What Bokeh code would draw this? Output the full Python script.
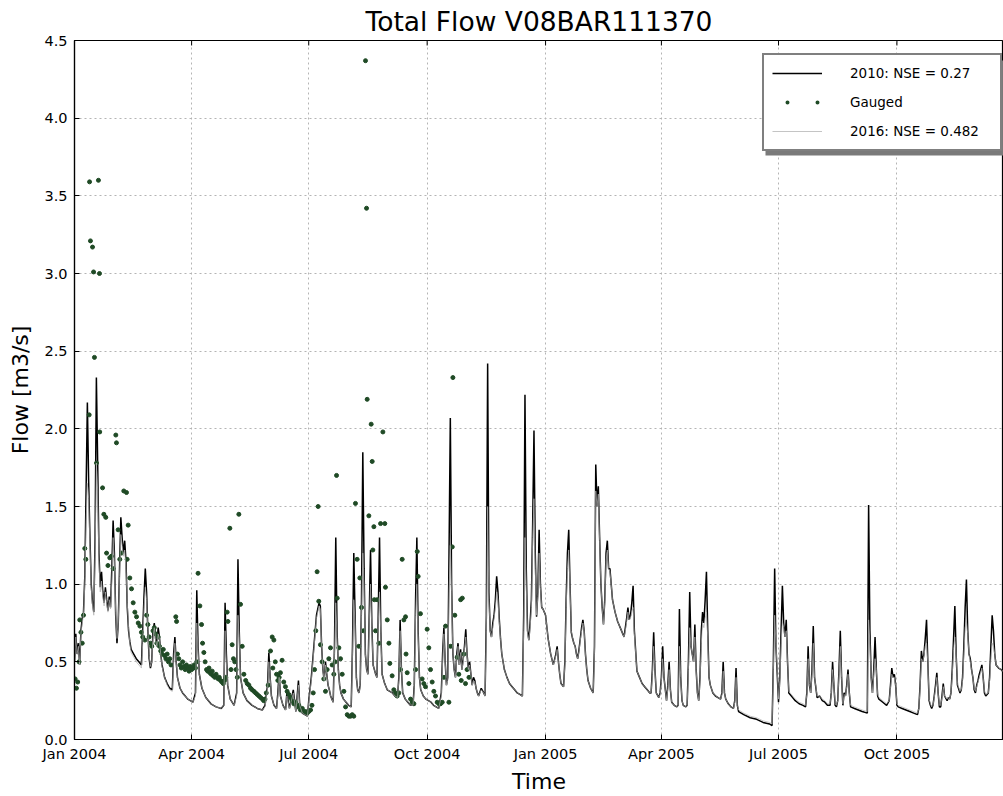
from datetime import datetime, timedelta
from bokeh.plotting import figure
from bokeh.models import (Range1d, FixedTicker, DatetimeTickFormatter, PrintfTickFormatter,
                          Legend, LegendItem, ColumnDataSource, BoxAnnotation)
from bokeh.embed import file_html
from bokeh.resources import INLINE

START = datetime(2004, 1, 1)

# simulated series: day offsets from 2004-01-01 and flows (m3/s)
sim_day = [
    0, 1, 2, 3, 4, 5, 6, 7, 8, 9,
    10, 11, 12, 13, 14, 15, 16, 17, 18, 19,
    20, 21, 22, 23, 24, 25, 26, 27, 28, 29,
    30, 31, 32, 33, 34, 35, 36, 37, 38, 39,
    40, 41, 42, 43, 44, 46, 48, 50, 52, 53,
    54, 55, 56, 57, 58, 59, 60, 61, 62, 63,
    64, 65, 66, 67, 68, 70, 72, 74, 76, 77,
    78, 79, 80, 82, 84, 86, 88, 90, 92, 94,
    95, 96, 97, 99, 102, 106, 110, 114, 116, 117,
    118, 119, 121, 124, 126, 127, 128, 129, 131, 134,
    138, 142, 146, 148, 150, 151, 152, 153, 155, 157,
    158, 159, 160, 162, 164, 165, 167, 170, 172, 174,
    175, 177, 179, 181, 182, 184, 186, 188, 190, 191,
    192, 193, 194, 195, 196, 197, 198, 199, 200, 201,
    202, 203, 204, 205, 206, 207, 209, 211, 213, 215,
    216, 217, 218, 219, 220, 221, 222, 223, 224, 225,
    226, 227, 228, 229, 230, 231, 232, 233, 234, 235,
    236, 237, 238, 239, 241, 243, 245, 247, 249, 251,
    252, 253, 254, 255, 257, 259, 261, 263, 264, 265,
    266, 267, 268, 269, 271, 273, 275, 277, 279, 281,
    283, 285, 286, 287, 288, 289, 290, 291, 292, 293,
    294, 295, 296, 297, 298, 299, 300, 301, 302, 303,
    304, 305, 306, 307, 308, 309, 310, 311, 312, 313,
    314, 316, 318, 319, 320, 321, 322, 323, 324, 325,
    326, 327, 328, 329, 330, 331, 332, 334, 336, 338,
    340, 342, 344, 346, 348, 349, 350, 351, 352, 353,
    354, 355, 356, 357, 358, 359, 360, 361, 362, 363,
    364, 366, 368, 370, 372, 374, 375, 376, 377, 378,
    380, 381, 382, 383, 384, 385, 386, 387, 388, 389,
    390, 391, 392, 393, 394, 395, 396, 397, 398, 399,
    401, 403, 404, 405, 406, 407, 408, 409, 410, 411,
    412, 413, 414, 415, 416, 417, 418, 420, 422, 424,
    426, 427, 428, 429, 430, 431, 432, 433, 434, 435,
    437, 439, 441, 443, 445, 447, 448, 449, 450, 451,
    452, 454, 455, 456, 457, 458, 460, 461, 462, 463,
    464, 466, 468, 469, 470, 471, 472, 473, 475, 476,
    477, 478, 479, 480, 481, 482, 483, 484, 485, 486,
    487, 488, 489, 490, 491, 492, 493, 494, 496, 498,
    500, 502, 503, 504, 505, 506, 508, 510, 512, 513,
    514, 515, 516, 520, 525, 530, 535, 540, 542, 543,
    544, 545, 547, 548, 549, 550, 551, 552, 553, 554,
    555, 557, 560, 563, 566, 568, 569, 570, 571, 572,
    573, 574, 575, 577, 579, 581, 583, 585, 587, 588,
    589, 590, 591, 592, 593, 594, 595, 596, 597, 598,
    599, 600, 601, 602, 603, 606, 609, 612, 616, 617,
    618, 619, 620, 621, 622, 623, 624, 625, 628, 631,
    633, 634, 635, 636, 637, 638, 639, 640, 643, 646,
    649, 652, 655, 656, 657, 658, 659, 660, 661, 662,
    663, 664, 665, 666, 667, 668, 669, 670, 671, 672,
    673, 674, 675, 676, 678, 679, 680, 681, 682, 683,
    684, 685, 686, 688, 689, 690, 691, 692, 693, 694,
    695, 696, 697, 698, 699, 700, 701, 702, 703, 704,
    705, 706, 707, 708, 710, 711, 712, 713, 714, 715,
    716, 718, 720, 725, 730,
]

flow_2010 = [
    0.50, 0.68, 0.55, 0.62, 0.48, 0.70, 0.78, 0.82, 1.05, 1.60,
    2.17, 1.66, 1.30, 1.00, 0.88, 0.82, 1.30, 2.33, 1.78, 1.20,
    0.98, 1.08, 0.95, 0.88, 0.98, 0.90, 0.83, 0.92, 0.85, 1.10,
    1.41, 1.20, 0.80, 0.62, 0.75, 1.10, 1.43, 1.30, 1.20, 1.28,
    1.15, 0.85, 0.70, 0.63, 0.58, 0.55, 0.52, 0.50, 0.48, 0.70,
    0.92, 1.10, 0.95, 0.70, 0.52, 0.46, 0.50, 0.70, 0.75, 0.65,
    0.60, 0.72, 0.66, 0.55, 0.48, 0.40, 0.36, 0.33, 0.32, 0.55,
    0.66, 0.50, 0.40, 0.33, 0.30, 0.28, 0.26, 0.25, 0.24, 0.30,
    0.96, 0.60, 0.42, 0.33, 0.27, 0.23, 0.21, 0.20, 0.22, 0.88,
    0.55, 0.35, 0.26, 0.22, 0.30, 1.16, 0.70, 0.40, 0.30, 0.25,
    0.22, 0.20, 0.19, 0.22, 0.35, 0.56, 0.40, 0.28, 0.22, 0.20,
    0.30, 0.43, 0.28, 0.22, 0.19, 0.30, 0.20, 0.32, 0.18, 0.38,
    0.22, 0.17, 0.16, 0.15, 0.25, 0.40, 0.60, 0.80, 0.88, 0.86,
    0.60, 0.45, 0.38, 0.50, 0.42, 0.35, 0.32, 0.28, 0.26, 0.24,
    0.60, 1.30, 0.70, 0.45, 0.35, 0.30, 0.26, 0.24, 0.22, 0.21,
    0.60, 1.20, 0.80, 0.40, 0.32, 0.30, 0.35, 0.90, 1.85, 1.10,
    0.55, 0.45, 0.42, 0.80, 1.22, 0.75, 0.48, 0.45, 0.42, 0.40,
    0.80, 1.30, 0.70, 0.42, 0.36, 0.32, 0.31, 0.30, 0.28, 0.27,
    0.40, 0.77, 0.45, 0.30, 0.26, 0.24, 0.22, 0.22, 0.35, 0.90,
    1.30, 0.70, 0.40, 0.32, 0.28, 0.26, 0.25, 0.24, 0.22, 0.21,
    0.20, 0.30, 0.55, 0.72, 0.50, 0.35, 0.40, 1.20, 2.07, 1.00,
    0.55, 0.45, 0.40, 0.55, 0.62, 0.48, 0.58, 0.45, 0.52, 0.60,
    0.71, 0.55, 0.45, 0.50, 0.42, 0.35, 0.40, 0.38, 0.33, 0.30,
    0.28, 0.33, 0.30, 0.28, 0.80, 2.42, 0.95, 0.70, 0.66, 0.75,
    0.80, 0.90, 1.05, 0.95, 0.78, 0.65, 0.55, 0.45, 0.40, 0.36,
    0.34, 0.32, 0.30, 0.29, 0.28, 0.80, 2.22, 1.10, 0.70, 0.64,
    0.75, 0.90, 1.40, 1.99, 1.20, 0.79, 0.95, 1.35, 1.00, 0.85,
    0.84, 0.80, 0.65, 0.55, 0.48, 0.55, 0.60, 0.50, 0.42, 0.36,
    0.34, 0.50, 0.90, 1.20, 1.35, 1.00, 0.69, 0.65, 0.62, 0.60,
    0.55, 0.52, 0.58, 0.65, 0.72, 0.77, 0.70, 0.55, 0.45, 0.38,
    0.33, 0.30, 0.60, 1.77, 1.50, 1.63, 1.30, 1.00, 0.85, 0.74,
    0.90, 1.20, 1.28, 1.10, 1.10, 1.00, 0.90, 0.82, 0.76, 0.72,
    0.68, 0.66, 0.72, 0.78, 0.85, 0.77, 0.80, 0.88, 0.99, 0.70,
    0.44, 0.40, 0.36, 0.34, 0.32, 0.30, 0.30, 0.45, 0.69, 0.45,
    0.30, 0.27, 0.30, 0.40, 0.60, 0.40, 0.25, 0.35, 0.50, 0.32,
    0.24, 0.22, 0.21, 0.22, 0.84, 0.40, 0.25, 0.22, 0.21, 0.22,
    0.50, 0.95, 0.60, 0.55, 0.50, 0.74, 0.45, 0.30, 0.25, 0.40,
    0.70, 0.82, 0.75, 0.90, 1.08, 0.70, 0.40, 0.35, 0.30, 0.28,
    0.27, 0.26, 0.30, 0.50, 0.30, 0.26, 0.23, 0.21, 0.20, 0.25,
    0.46, 0.22, 0.18, 0.16, 0.14, 0.13, 0.11, 0.10, 0.09, 0.50,
    1.10, 0.60, 0.24, 0.40, 0.70, 0.99, 0.75, 0.66, 0.77, 0.50,
    0.30, 0.28, 0.25, 0.23, 0.22, 0.21, 0.30, 0.60, 0.35, 0.30,
    0.45, 0.73, 0.40, 0.27, 0.28, 0.25, 0.24, 0.22, 0.22, 0.30,
    0.50, 0.35, 0.22, 0.21, 0.25, 0.45, 0.70, 0.40, 0.22, 0.30,
    0.28, 0.35, 0.45, 0.30, 0.21, 0.20, 0.19, 0.18, 0.17, 1.51,
    0.70, 0.40, 0.30, 0.45, 0.66, 0.45, 0.28, 0.26, 0.24, 0.22,
    0.25, 0.35, 0.46, 0.40, 0.42, 0.35, 0.22, 0.21, 0.20, 0.19,
    0.18, 0.17, 0.16, 0.20, 0.35, 0.57, 0.50, 0.55, 0.65, 0.77,
    0.50, 0.25, 0.22, 0.20, 0.22, 0.28, 0.35, 0.43, 0.30, 0.21,
    0.21, 0.28, 0.36, 0.28, 0.25, 0.27, 0.26, 0.30, 0.45, 0.65,
    0.86, 0.55, 0.35, 0.30, 0.32, 0.40, 0.60, 0.85, 1.03, 0.70,
    0.55, 0.52, 0.45, 0.40, 0.32, 0.30, 0.35, 0.38, 0.42, 0.45,
    0.48, 0.40, 0.30, 0.28, 0.30, 0.40, 0.60, 0.80, 0.70, 0.55,
    0.48, 0.46, 0.45, 0.40, 0.38,
]

flow_2016 = [
    0.50, 0.66, 0.55, 0.60, 0.48, 0.68, 0.75, 0.80, 1.00, 1.40,
    1.65, 1.55, 1.25, 0.98, 0.86, 0.80, 1.20, 1.78, 1.60, 1.15,
    0.95, 1.02, 0.92, 0.86, 0.95, 0.88, 0.82, 0.90, 0.84, 1.02,
    1.30, 1.15, 0.82, 0.65, 0.75, 1.05, 1.32, 1.25, 1.18, 1.22,
    1.10, 0.88, 0.72, 0.62, 0.56, 0.53, 0.50, 0.48, 0.46, 0.62,
    0.85, 0.98, 0.90, 0.70, 0.54, 0.47, 0.50, 0.66, 0.72, 0.64,
    0.60, 0.68, 0.64, 0.55, 0.47, 0.40, 0.35, 0.32, 0.31, 0.50,
    0.62, 0.50, 0.40, 0.33, 0.30, 0.28, 0.26, 0.25, 0.24, 0.28,
    0.75, 0.58, 0.42, 0.33, 0.27, 0.23, 0.21, 0.20, 0.22, 0.70,
    0.50, 0.35, 0.26, 0.22, 0.28, 0.80, 0.66, 0.40, 0.30, 0.25,
    0.22, 0.20, 0.19, 0.21, 0.32, 0.50, 0.40, 0.28, 0.22, 0.20,
    0.28, 0.40, 0.28, 0.22, 0.19, 0.28, 0.20, 0.30, 0.18, 0.35,
    0.22, 0.17, 0.16, 0.15, 0.24, 0.38, 0.58, 0.78, 0.86, 0.84,
    0.60, 0.45, 0.38, 0.48, 0.42, 0.35, 0.32, 0.28, 0.26, 0.24,
    0.55, 0.88, 0.66, 0.45, 0.35, 0.30, 0.26, 0.24, 0.22, 0.21,
    0.55, 0.90, 0.75, 0.40, 0.32, 0.30, 0.34, 0.80, 1.20, 1.00,
    0.55, 0.45, 0.42, 0.75, 1.00, 0.72, 0.48, 0.45, 0.42, 0.40,
    0.75, 0.95, 0.68, 0.42, 0.36, 0.32, 0.31, 0.30, 0.28, 0.27,
    0.38, 0.70, 0.45, 0.30, 0.26, 0.24, 0.22, 0.22, 0.33, 0.80,
    1.00, 0.68, 0.40, 0.32, 0.28, 0.26, 0.25, 0.24, 0.22, 0.21,
    0.20, 0.28, 0.50, 0.68, 0.50, 0.35, 0.38, 0.95, 1.25, 0.95,
    0.55, 0.45, 0.40, 0.52, 0.60, 0.48, 0.56, 0.45, 0.50, 0.58,
    0.66, 0.55, 0.45, 0.48, 0.42, 0.35, 0.38, 0.37, 0.33, 0.30,
    0.28, 0.32, 0.30, 0.28, 0.70, 1.50, 0.90, 0.70, 0.66, 0.72,
    0.78, 0.85, 0.95, 0.90, 0.76, 0.65, 0.55, 0.45, 0.40, 0.36,
    0.34, 0.32, 0.30, 0.29, 0.28, 0.70, 1.30, 1.00, 0.68, 0.64,
    0.72, 0.85, 1.30, 1.55, 1.10, 0.80, 0.92, 1.20, 0.98, 0.85,
    0.84, 0.80, 0.65, 0.55, 0.48, 0.54, 0.58, 0.50, 0.42, 0.36,
    0.34, 0.48, 0.85, 1.10, 1.22, 0.98, 0.70, 0.65, 0.62, 0.60,
    0.55, 0.52, 0.57, 0.64, 0.70, 0.75, 0.70, 0.55, 0.45, 0.38,
    0.33, 0.30, 0.55, 1.60, 1.50, 1.58, 1.28, 1.00, 0.85, 0.74,
    0.88, 1.15, 1.22, 1.10, 1.08, 1.00, 0.90, 0.82, 0.76, 0.72,
    0.68, 0.66, 0.70, 0.76, 0.82, 0.77, 0.78, 0.82, 0.85, 0.68,
    0.44, 0.40, 0.36, 0.34, 0.32, 0.30, 0.30, 0.42, 0.60, 0.45,
    0.30, 0.27, 0.29, 0.38, 0.52, 0.40, 0.25, 0.33, 0.45, 0.32,
    0.24, 0.22, 0.21, 0.22, 0.60, 0.40, 0.25, 0.22, 0.21, 0.22,
    0.45, 0.72, 0.60, 0.55, 0.50, 0.66, 0.45, 0.30, 0.25, 0.38,
    0.62, 0.75, 0.72, 0.78, 0.82, 0.66, 0.40, 0.35, 0.30, 0.28,
    0.27, 0.26, 0.29, 0.44, 0.30, 0.26, 0.23, 0.21, 0.20, 0.24,
    0.40, 0.22, 0.19, 0.17, 0.15, 0.14, 0.12, 0.11, 0.10, 0.45,
    0.80, 0.62, 0.26, 0.38, 0.62, 0.76, 0.72, 0.66, 0.70, 0.50,
    0.31, 0.29, 0.26, 0.24, 0.23, 0.22, 0.29, 0.52, 0.36, 0.30,
    0.42, 0.62, 0.40, 0.28, 0.28, 0.26, 0.25, 0.23, 0.23, 0.29,
    0.45, 0.35, 0.23, 0.22, 0.25, 0.42, 0.60, 0.40, 0.23, 0.29,
    0.28, 0.34, 0.42, 0.30, 0.22, 0.21, 0.20, 0.19, 0.18, 0.77,
    0.62, 0.40, 0.30, 0.42, 0.52, 0.45, 0.29, 0.27, 0.25, 0.23,
    0.25, 0.33, 0.42, 0.40, 0.40, 0.35, 0.23, 0.22, 0.21, 0.20,
    0.19, 0.18, 0.17, 0.20, 0.33, 0.52, 0.50, 0.54, 0.60, 0.62,
    0.50, 0.26, 0.23, 0.21, 0.22, 0.27, 0.33, 0.40, 0.30, 0.22,
    0.22, 0.27, 0.34, 0.28, 0.26, 0.27, 0.26, 0.30, 0.42, 0.58,
    0.66, 0.55, 0.36, 0.31, 0.32, 0.38, 0.55, 0.72, 0.76, 0.68,
    0.55, 0.50, 0.45, 0.40, 0.33, 0.31, 0.34, 0.37, 0.40, 0.43,
    0.46, 0.40, 0.31, 0.29, 0.30, 0.38, 0.52, 0.62, 0.60, 0.55,
    0.48, 0.46, 0.45, 0.41, 0.38,
]

# gauged observations (day offset from 2004-01-01, flow)
gauged_day = [
    0.5, 1.5, 2.5, 3.5, 4.1, 5.0, 6.0, 7.0, 8.0, 8.8,
    11.4, 11.7, 12.4, 14.0, 14.8, 15.5, 17.1, 18.6, 19.4, 19.6,
    21.8, 22.8, 24.3, 24.9, 26.0, 27.4, 28.7, 30.0, 32.1, 32.6,
    33.9, 35.2, 36.5, 38.3, 40.4, 40.9, 41.7, 43.0, 44.3, 45.6,
    46.9, 48.2, 49.5, 50.8, 52.0, 53.0, 54.7, 56.0, 57.0, 58.0,
    59.0, 60.0, 61.0, 62.0, 63.0, 64.0, 65.0, 66.0, 67.0, 68.0,
    69.0, 70.0, 71.0, 72.0, 73.0, 74.0, 75.0, 78.7, 79.3, 80.0,
    81.0, 82.0, 83.0, 84.0, 85.0, 86.0, 87.0, 88.0, 89.0, 90.0,
    91.0, 92.0, 93.0, 94.0, 95.0, 96.0, 97.4, 98.7, 99.5, 100.5,
    101.5, 102.6, 103.5, 104.5, 105.2, 106.3, 107.0, 107.8, 109.0, 110.0,
    111.7, 112.5, 113.5, 114.5, 115.6, 116.5, 117.5, 118.6, 119.2, 120.7,
    121.6, 122.5, 123.5, 124.5, 125.5, 126.5, 127.7, 129.0, 130.3, 131.6,
    133.0, 134.2, 135.5, 136.8, 138.0, 139.4, 140.7, 142.0, 143.3, 144.6,
    146.0, 147.0, 148.0, 149.0, 150.5, 152.3, 153.6, 154.1, 154.9, 156.0,
    157.0, 158.0, 159.0, 160.0, 161.3, 162.6, 163.9, 165.2, 166.5, 167.8,
    169.0, 170.4, 171.7, 173.0, 174.3, 175.6, 177.0, 178.2, 179.5, 180.8,
    182.0, 183.4, 184.5, 185.5, 186.5, 187.5, 188.5, 189.3, 189.8, 191.1,
    192.4, 193.7, 195.0, 196.3, 197.6, 198.9, 200.2, 201.5, 202.5, 203.6,
    204.1, 205.4, 206.7, 208.0, 209.3, 210.6, 211.9, 213.2, 214.5, 215.8,
    217.0, 218.3, 219.6, 220.9, 221.7, 223.0, 224.5, 226.1, 226.9, 227.4,
    228.7, 230.5, 231.3, 231.8, 232.6, 233.0, 233.9, 235.2, 236.5, 237.8,
    239.6, 241.1, 241.6, 243.0, 244.3, 245.0, 246.8, 248.1, 249.4, 250.7,
    252.0, 253.3, 254.6, 255.9, 257.2, 257.6, 258.5, 259.8, 261.1, 262.4,
    263.7, 265.0, 266.3, 267.0, 268.8, 270.1, 271.4, 272.7, 274.0, 275.3,
    276.6, 277.9, 279.2, 280.5, 281.8, 283.1, 284.4, 285.7, 287.0, 288.3,
    290.9, 292.2, 293.5, 294.0, 295.5, 297.3, 298.6, 300.0, 300.5, 301.3,
    302.6, 303.8, 305.0, 306.5,
]

gauged_flow = [
    0.39, 0.33, 0.37, 0.50, 0.77, 0.69, 0.62, 0.80, 1.23, 1.16,
    2.09, 3.59, 3.21, 3.17, 3.01, 2.46, 1.78, 3.60, 3.00, 1.98,
    1.62, 1.45, 1.43, 1.20, 1.12, 1.17, 1.18, 1.10, 1.96, 1.91,
    1.35, 1.16, 1.20, 1.60, 1.59, 1.16, 1.38, 1.04, 0.97, 0.88,
    0.82, 0.79, 0.75, 0.73, 0.69, 0.66, 0.64, 0.80, 0.74, 0.66,
    0.62, 0.60, 0.70, 0.72, 0.68, 0.62, 0.66, 0.60, 0.57, 0.55,
    0.58, 0.54, 0.52, 0.55, 0.50, 0.52, 0.48, 0.79, 0.76, 0.55,
    0.52, 0.48, 0.46, 0.50, 0.47, 0.45, 0.48, 0.46, 0.44, 0.47,
    0.45, 0.46, 0.48, 0.46, 0.50, 1.07, 0.86, 0.74, 0.62, 0.56,
    0.50, 0.45, 0.44, 0.46, 0.43, 0.42, 0.44, 0.41, 0.40, 0.42,
    0.39, 0.40, 0.38, 0.37, 0.36, 0.38, 0.40, 0.82, 0.76, 1.36,
    0.45, 0.61, 0.52, 0.50, 0.45, 0.40, 1.45, 0.87, 0.60, 0.42,
    0.38, 0.36, 0.35, 0.33, 0.32, 0.31, 0.30, 0.29, 0.28, 0.27,
    0.26, 0.25, 0.26, 0.30, 0.35, 0.57, 0.66, 0.46, 0.64, 0.50,
    0.42, 0.38, 0.40, 0.43, 0.51, 0.37, 0.34, 0.31, 0.29, 0.27,
    0.25, 0.23, 0.24, 0.21, 0.22, 0.19, 0.20, 0.18, 0.18, 0.17,
    0.18, 0.19, 0.22, 0.30, 0.45, 0.70, 1.08, 1.50, 0.89, 0.61,
    0.50, 0.39, 0.31, 0.45, 0.52, 0.59, 0.48, 0.42, 0.50, 1.70,
    0.91, 0.59, 0.52, 0.42, 0.31, 0.21, 0.16, 0.15, 0.15, 0.16,
    0.15, 1.52, 1.16, 0.60, 1.04, 0.85, 0.70, 4.37, 3.42, 2.19,
    1.44, 2.03, 1.79, 1.22, 1.37, 0.90, 0.70, 0.90, 0.62, 1.39,
    1.98, 1.39, 0.98, 0.77, 0.62, 0.49, 0.41, 0.32, 0.30, 0.28,
    0.30, 0.45, 1.16, 0.77, 0.79, 0.55, 0.43, 0.36, 0.26, 0.24,
    0.23, 0.45, 1.21, 1.05, 0.81, 0.39, 0.36, 0.34, 0.71, 0.59,
    0.45, 0.37, 0.31, 0.28, 0.24, 0.23, 0.23, 0.24, 0.40, 0.73,
    0.24, 0.60, 1.24, 2.33, 0.80, 0.53, 0.42, 0.90, 0.38, 0.91,
    0.55, 0.36, 0.45, 0.40,
]

x_tick_dates = ["2004-01-01", "2004-04-01", "2004-07-01", "2004-10-01",
                "2005-01-01", "2005-04-01", "2005-07-01", "2005-10-01"]
y_ticks = [0.0, 0.5, 1.0, 1.5, 2.0, 2.5, 3.0, 3.5, 4.0, 4.5]

labels = ["2010: NSE = 0.27", "Gauged", "2016: NSE = 0.482"]

FONT = "DejaVu Sans"
GAUGED_COLOR = "#1f4a25"
Y_MIN, Y_MAX = 0.0, 4.5
FRAME_H = 700  # px

sim_dates = [START + timedelta(days=d) for d in sim_day]
gauged_dates = [START + timedelta(days=d) for d in gauged_day]

src_sim = ColumnDataSource(dict(date=sim_dates, f2010=flow_2010, f2016=flow_2016))
src_g = ColumnDataSource(dict(date=gauged_dates, flow=gauged_flow))

p = figure(width=1003, height=796, x_axis_type="datetime",
           output_backend="svg", toolbar_location=None,
           x_range=Range1d(START, START + timedelta(days=721.8)),
           y_range=Range1d(Y_MIN, Y_MAX),
           min_border_left=74, min_border_right=0,
           min_border_top=40, min_border_bottom=56)

p.background_fill_color = "white"
p.border_fill_color = "white"
p.outline_line_color = "black"
p.outline_line_width = 1.2

p.title.text = "Total Flow V08BAR111370"
p.title.align = "center"
p.title.text_font = FONT
p.title.text_font_size = "26.5px"
p.title.text_font_style = "normal"
p.title.text_color = "black"
p.title.offset = 4
p.title.standoff = 7

tick_ms = [(datetime.strptime(s, "%Y-%m-%d") - datetime(1970, 1, 1)).total_seconds() * 1000
           for s in x_tick_dates]

fmt = "%b %Y"
dt_fmt = DatetimeTickFormatter(
    milliseconds=fmt, seconds=fmt, minsec=fmt, minutes=fmt, hourmin=fmt,
    hours=fmt, days=fmt, months=fmt, years=fmt)
p.xaxis.ticker = FixedTicker(ticks=tick_ms)
p.xaxis.formatter = dt_fmt
p.yaxis.ticker = FixedTicker(ticks=y_ticks)
p.yaxis.formatter = PrintfTickFormatter(format="%.1f")

for ax in (p.xaxis, p.yaxis):
    ax.axis_line_color = "black"
    ax.axis_line_width = 1.2
    ax.major_tick_in = 5
    ax.major_tick_out = 0
    ax.minor_tick_line_color = None
    ax.major_tick_line_color = "black"
    ax.major_label_text_font = FONT
    ax.major_label_text_font_size = "14.5px"
    ax.major_label_text_color = "black"
    ax.axis_label_text_font = FONT
    ax.axis_label_text_font_size = "22px"
    ax.axis_label_text_font_style = "normal"
    ax.axis_label_text_color = "black"

p.xaxis.axis_label = "Time"
p.yaxis.axis_label = "Flow [m3/s]"
p.xaxis.major_label_standoff = 6
p.xaxis.axis_label_standoff = 4
p.yaxis.major_label_standoff = 7
p.yaxis.axis_label_standoff = 8

# inward tick marks on the top spine (matplotlib style), 5 px long
tick_len = 5 * (Y_MAX - Y_MIN) / FRAME_H
tick_dt = [datetime.strptime(s, "%Y-%m-%d") for s in x_tick_dates]
p.segment(x0=tick_dt, y0=[Y_MAX] * len(tick_dt),
          x1=tick_dt, y1=[Y_MAX - tick_len] * len(tick_dt),
          line_color="black", line_width=1)

p.xgrid.ticker = FixedTicker(ticks=tick_ms)
p.ygrid.ticker = FixedTicker(ticks=y_ticks)
for g in (p.xgrid, p.ygrid):
    g.grid_line_color = "#b4b4b4"
    g.grid_line_dash = "2 3"
    g.grid_line_width = 1

r10 = p.line("date", "f2010", source=src_sim, line_color="black", line_width=1.5)
rg = p.scatter("date", "flow", source=src_g, size=4, marker="circle",
               fill_color=GAUGED_COLOR, line_color=GAUGED_COLOR)
r16 = p.line("date", "f2016", source=src_sim, line_color="#b0b0b0",
             line_alpha=0.7, line_width=1.0)

# legend-only proxy renderers, placed outside the visible range
proxy = ColumnDataSource(dict(x=[START - timedelta(days=200), START - timedelta(days=100)],
                              y=[-1.0, -1.0]))
rg_leg = p.line("x", "y", source=proxy, line_color=GAUGED_COLOR, line_width=4,
                line_cap="round", line_dash="0 30", line_dash_offset=15)
r16_leg = p.line("x", "y", source=proxy, line_color="#c4c4c4", line_width=1.2)

# legend drop shadow (screen units relative to the plot frame)
shadow = BoxAnnotation(left=691, right=929, bottom=584, top=679,
                       left_units="screen", right_units="screen",
                       bottom_units="screen", top_units="screen",
                       fill_color="#7a7a7a", fill_alpha=1.0, line_color=None,
                       level="annotation")
p.add_layout(shadow)

legend = Legend(items=[LegendItem(label=labels[0], renderers=[r10]),
                       LegendItem(label=labels[1], renderers=[rg_leg]),
                       LegendItem(label=labels[2], renderers=[r16_leg])],
                location=(688, 588))
legend.label_text_font = FONT
legend.label_text_font_size = "13.5px"
legend.label_text_color = "black"
legend.border_line_color = "black"
legend.border_line_width = 2
legend.background_fill_color = "white"
legend.background_fill_alpha = 1.0
legend.padding = 8
legend.spacing = 9
legend.glyph_width = 50
legend.glyph_height = 12
legend.label_height = 20
legend.label_standoff = 28
legend.label_width = 142
legend.margin = 0
p.add_layout(legend)

open("out.html", "w").write(file_html(p, INLINE))
